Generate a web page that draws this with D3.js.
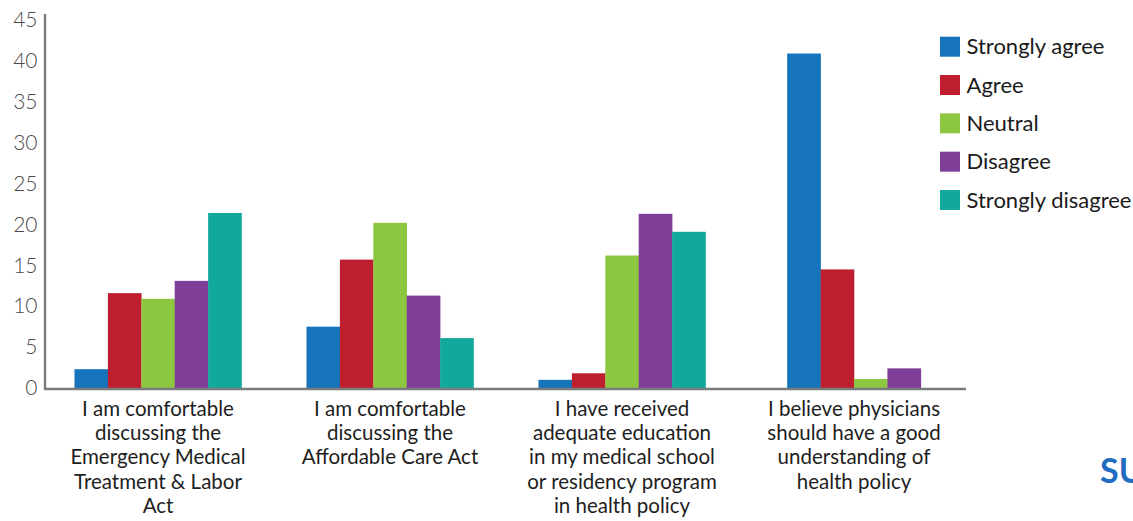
<!DOCTYPE html>
<html>
<head>
<meta charset="utf-8">
<script src="https://cdn.jsdelivr.net/npm/d3@7"></script>
<style>
  html, body { margin: 0; padding: 0; background: #fff; overflow: hidden; }
  svg { display: block; font-family: Lato, "Open Sans", sans-serif; }
</style>
</head>
<body>
<svg id="chart" width="1133" height="521"></svg>
<script>
// Survey statements (wrapped into display lines)
const statementLines = [
  ["I am comfortable", "discussing the", "Emergency Medical", "Treatment & Labor", "Act"],
  ["I am comfortable", "discussing the", "Affordable Care Act"],
  ["I have received", "adequate education", "in my medical school", "or residency program", "in health policy"],
  ["I believe physicians", "should have a good", "understanding of", "health policy"]
];

// Response categories
const responses = ["Strongly agree", "Agree", "Neutral", "Disagree", "Strongly disagree"];

// Values per response, one per statement (null = no bar)
const stronglyAgree    = [2.3, 7.5, 1.0, 40.9];
const agree            = [11.6, 15.7, 1.8, 14.5];
const neutral          = [10.9, 20.2, 16.2, 1.1];
const disagree         = [13.1, 11.3, 21.3, 2.4];
const stronglyDisagree = [21.4, 6.1, 19.1, null];

const yTicks = [0, 5, 10, 15, 20, 25, 30, 35, 40, 45];

const colors = ["#1574bb", "#be1e2d", "#8dc63f", "#7f3f98", "#12a89d"];

const seriesValues = [stronglyAgree, agree, neutral, disagree, stronglyDisagree];

const svg = d3.select("#chart");

const x0 = d3.scaleBand()
  .domain(d3.range(statementLines.length))
  .range([42, 970])
  .paddingInner(0.28)
  .paddingOuter(0.14);

const y = d3.scaleLinear().domain([0, 45]).range([388, 20]);

const color = d3.scaleOrdinal().domain(responses).range(colors);

// Bars: each statement group holds only the responses that have a value, centred in the band
const barW = x0.bandwidth() / responses.length;
statementLines.forEach((_, gi) => {
  const present = responses.filter((r, si) => seriesValues[si][gi] != null);
  const gx = x0(gi);
  const bw = x0.bandwidth();
  const x1 = d3.scaleBand()
    .domain(present)
    .range([gx + (bw - present.length * barW) / 2, gx + (bw + present.length * barW) / 2]);
  svg.append("g")
    .selectAll("rect")
    .data(present.map(r => ({ r, v: seriesValues[responses.indexOf(r)][gi] })))
    .join("rect")
    .attr("x", d => x1(d.r))
    .attr("width", x1.bandwidth() + 0.3)
    .attr("y", d => y(d.v))
    .attr("height", d => y(0) - y(d.v))
    .attr("fill", d => color(d.r));
});

// Y axis labels
const yAxis = d3.axisLeft(y).tickValues(yTicks).tickSize(0).tickPadding(0);
const yg = svg.append("g").attr("transform", "translate(37.5,0)").call(yAxis);
yg.select(".domain").remove();
yg.selectAll("text")
  .attr("font-family", "Lato, sans-serif")
  .attr("font-size", 21)
  .attr("font-weight", 300)
  .attr("fill", "#4a4a4a");

// Axis lines
svg.append("line")
  .attr("x1", 45).attr("x2", 45)
  .attr("y1", 14).attr("y2", y(0) + 2)
  .attr("stroke", "#7a7b7e").attr("stroke-width", 2.4);
svg.append("line")
  .attr("x1", 44).attr("x2", 966)
  .attr("y1", y(0) + 1).attr("y2", y(0) + 1)
  .attr("stroke", "#7a7b7e").attr("stroke-width", 2.4);

// Category labels
const labels = svg.append("g")
  .attr("font-size", 20.5)
  .attr("fill", "#1e1e1e")
  .attr("text-anchor", "middle");
statementLines.forEach((lines, gi) => {
  const t = labels.append("text")
    .attr("x", x0(gi) + x0.bandwidth() / 2)
    .attr("y", 416);
  lines.forEach((ln, li) => {
    t.append("tspan")
      .attr("x", x0(gi) + x0.bandwidth() / 2)
      .attr("dy", li === 0 ? 0 : 24.2)
      .text(ln);
  });
});

// Legend
const legendY = d3.scalePoint().domain(responses).range([46.7, 200]);
const legend = svg.append("g");
const item = legend.selectAll("g")
  .data(responses)
  .join("g")
  .attr("transform", d => `translate(940,${legendY(d)})`);
item.append("rect")
  .attr("x", 0).attr("y", -10)
  .attr("width", 20).attr("height", 20)
  .attr("fill", d => color(d));
item.append("text")
  .attr("x", 26.5)
  .attr("dy", "0.35em")
  .attr("font-size", 22)
  .attr("fill", "#1a1a1a")
  .text(d => d);

// Corner heading fragment
svg.append("text")
  .attr("x", 1100)
  .attr("y", 483)
  .attr("font-size", 34)
  .attr("font-weight", 700)
  .attr("fill", "#1f6cc0")
  .text("SU");
</script>
</body>
</html>
